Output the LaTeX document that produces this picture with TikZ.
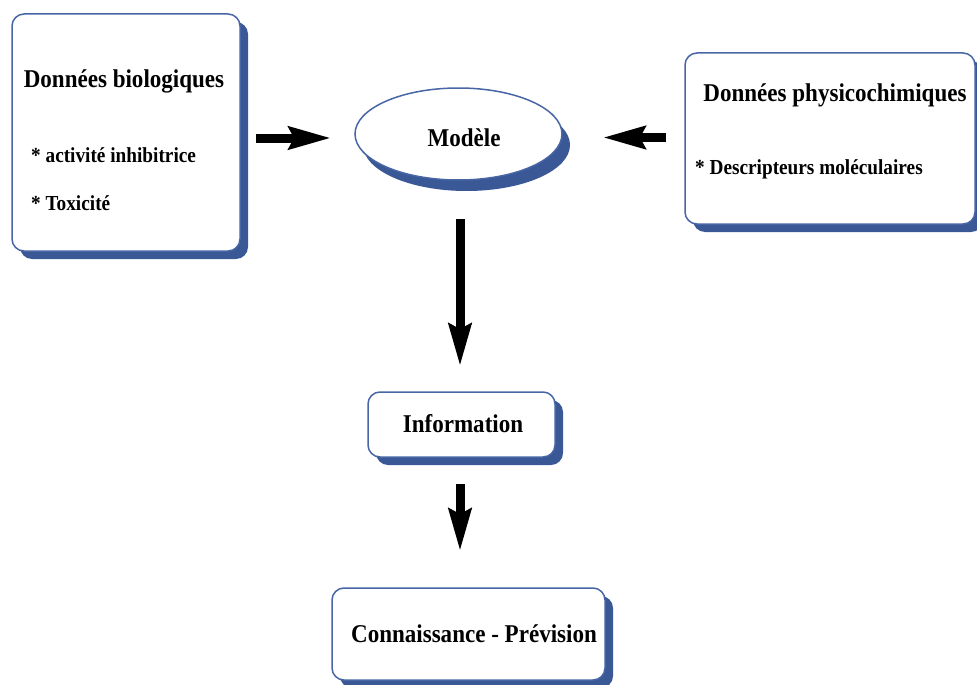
\documentclass[tikz,border=0pt]{standalone}
\usepackage{fontspec}
\newfontfamily\tfont{Liberation Serif}[FakeStretch=0.9]
\usetikzlibrary{arrows.meta,shapes.geometric,shadows}
\definecolor{borderblue}{RGB}{72,102,165}
\definecolor{shadowblue}{RGB}{58,88,150}
\tikzset{
  boxshadow/.style={drop shadow={shadow xshift=8pt, shadow yshift=-8pt, fill=shadowblue, opacity=1}},
  roundbox/.style={draw=borderblue, line width=1.5pt, fill=white, rounded corners=12pt,
    boxshadow, inner sep=0pt, anchor=center},
  modelell/.style={ellipse, draw=borderblue, line width=1.5pt, fill=white, inner sep=0pt,
    drop shadow={shadow xshift=8pt, shadow yshift=-11pt, fill=shadowblue, opacity=1}},
  bigtxt/.style={font=\tfont\bfseries\fontsize{25.6}{30}\selectfont, inner sep=0pt},
  smalltxt/.style={font=\tfont\bfseries\fontsize{21.4}{26}\selectfont, inner sep=0pt},
  bigarrow/.style={line width=9pt, -{Stealth[length=42pt,width=22pt,inset=5pt]}},
}
\begin{document}
\begin{tikzpicture}[x=1pt,y=-1pt]
\useasboundingbox (0,0) rectangle (977,685);
\clip (0,0) rectangle (977,685);
% boxes
\node[roundbox, minimum width=228pt, minimum height=237pt] (bio) at (126,132.5) {};
\node[roundbox, minimum width=290pt, minimum height=171pt] (phys) at (830,138.5) {};
\node[modelell, minimum width=207pt, minimum height=92pt] (model) at (458.5,134) {};
\node[roundbox, minimum width=187pt, minimum height=65pt] (info) at (461.5,424.5) {};
\node[roundbox, minimum width=273pt, minimum height=92pt] (conn) at (468.5,634) {};
% texts
\node[bigtxt, anchor=base] (biot) at (124,87) {Données biologiques};
\node[smalltxt, anchor=base west] (bio1) at (31,162) {* activité inhibitrice};
\node[smalltxt, anchor=base west] (bio2) at (31,210) {* Toxicité};
\node[bigtxt, anchor=base] (physt) at (835,101) {Données physicochimiques};
\node[smalltxt, anchor=base west] (phys1) at (695,174) {* Descripteurs moléculaires};
\node[bigtxt, anchor=base] (modelt) at (464,146) {Modèle};
\node[bigtxt, anchor=base] (infot) at (463,432) {Information};
\node[bigtxt, anchor=base] (connt) at (474,642) {Connaissance - Prévision};
% arrows
\draw[bigarrow, shorten <=15pt, shorten >=23pt] ([yshift=-5.5pt]bio.east) -- ([yshift=-4pt]model.west);
\draw[bigarrow, shorten <=18pt, shorten >=40pt] ([yshift=1pt]phys.west) -- ([yshift=-3.5pt]model.east);
\draw[bigarrow, shorten <=38pt, shorten >=25pt] ([xshift=1.5pt]model.south) -- ([xshift=-1.5pt]info.north);
\draw[bigarrow, shorten <=26pt, shorten >=36pt] ([xshift=-1.5pt]info.south) -- ([xshift=-8.5pt]conn.north);
\end{tikzpicture}
\end{document}
